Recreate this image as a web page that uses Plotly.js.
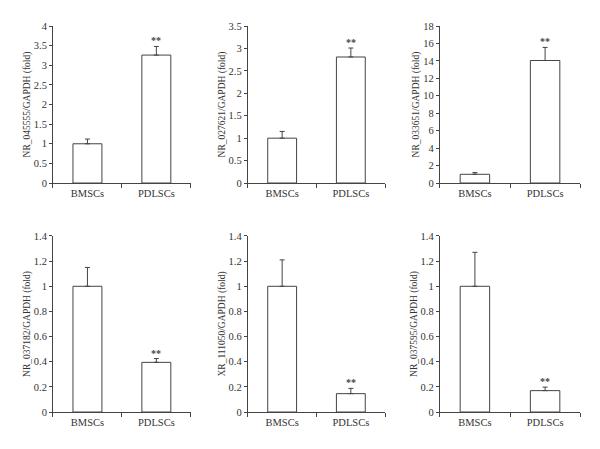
<!DOCTYPE html>
<html><head><meta charset="utf-8">
<script src="https://cdn.plot.ly/plotly-3.0.1.min.js"></script>
<style>html,body{margin:0;padding:0;background:#fff}#chart{width:600px;height:449px}</style>
</head><body><div id="chart"></div>
<script>
const categories = ["BMSCs", "PDLSCs"];
const genes = ["NR_045555", "NR_027621", "NR_033651", "NR_037182", "XR_111050", "NR_037595"];
const means1 = [1, 3.26];   const errs1 = [0.12, 0.22];
const means2 = [1, 2.81];   const errs2 = [0.15, 0.20];
const means3 = [1, 14.05];  const errs3 = [0.2, 1.5];
const means4 = [1, 0.395];  const errs4 = [0.15, 0.03];
const means5 = [1, 0.146];  const errs5 = [0.21, 0.042];
const means6 = [1, 0.17];   const errs6 = [0.27, 0.028];
const yMax = [4, 3.5, 18, 1.4, 1.4, 1.4];
const yStep = [0.5, 0.5, 2, 0.2, 0.2, 0.2];
const sig = ["", "**"];

const means = [means1, means2, means3, means4, means5, means6];
const errs = [errs1, errs2, errs3, errs4, errs5, errs6];

const xDom = [[0.0883, 0.318], [0.413, 0.642], [0.733, 0.967]];
const yDom = [[0.5924, 0.942], [0.0824, 0.4744]];
const font = "Liberation Serif, Times New Roman, serif";
const lineC = "#444";

const data = [];
const layout = {
  width: 600, height: 449, margin: {l: 0, r: 0, t: 0, b: 0},
  paper_bgcolor: "#fff", plot_bgcolor: "#fff", showlegend: false,
  font: {family: font, size: 10, color: "#333"},
  annotations: []
};
const xpos = categories.map((c, i) => i);
for (let k = 0; k < 6; k++) {
  const s = k === 0 ? "" : String(k + 1);
  data.push({
    type: "bar", x: xpos, y: means[k], width: 0.42,
    xaxis: "x" + s, yaxis: "y" + s,
    marker: {color: "#fff", line: {color: lineC, width: 1}},
    error_y: {type: "data", symmetric: false, array: errs[k], arrayminus: [0, 0],
              color: lineC, thickness: 1, width: 2.5},
    hoverinfo: "none"
  });
  layout["xaxis" + s] = {
    domain: xDom[k % 3], anchor: "y" + s, range: [-0.5, 1.5],
    tickmode: "array", tickvals: xpos, ticktext: categories, ticks: "",
    minor: {tickmode: "linear", tick0: -0.5, dtick: 1, ticks: "outside", ticklen: 4, tickcolor: lineC, tickwidth: 1},
    showline: true, linecolor: lineC, linewidth: 1, showgrid: false, zeroline: false,
    tickfont: {family: font, size: 10.5, color: "#333"}, fixedrange: true
  };
  layout["yaxis" + s] = {
    domain: yDom[Math.floor(k / 3)], anchor: "x" + s, range: [0, yMax[k]],
    tickmode: "linear", tick0: 0, dtick: yStep[k], ticks: "outside", ticklen: 3,
    tickcolor: lineC, showline: true, linecolor: lineC, linewidth: 1,
    showgrid: false, zeroline: false,
    tickfont: {family: font, size: 10.5, color: "#333"},
    title: {text: genes[k] + "/GAPDH (fold)", font: {family: font, size: 9.5, color: "#333"}, standoff: 1},
    fixedrange: true
  };
  for (let i = 0; i < categories.length; i++) {
    if (sig[i]) {
      layout.annotations.push({
        xref: "x" + s, yref: "y" + s, x: xpos[i], y: means[k][i] + errs[k][i],
        text: "<b>" + sig[i] + "</b>", showarrow: false, yanchor: "bottom", yshift: -2,
        font: {family: font, size: 10, color: "#444"}
      });
    }
  }
}
Plotly.newPlot("chart", data, layout, {staticPlot: true, displayModeBar: false});
</script>
</body></html>
